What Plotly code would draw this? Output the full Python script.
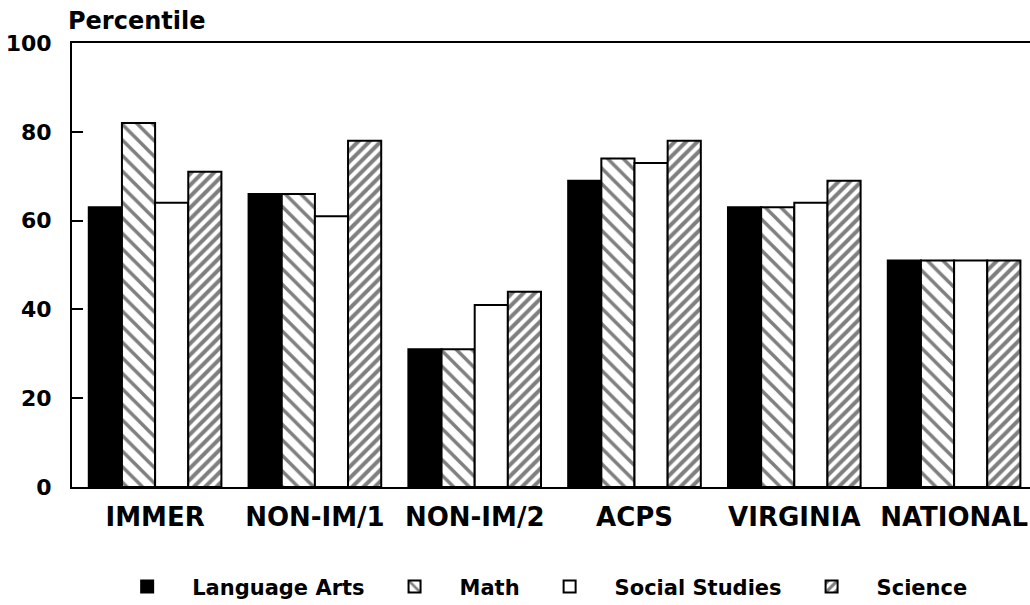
import plotly.graph_objects as go

# Percentile scores by program group and subject
groups = ["IMMER", "NON-IM/1", "NON-IM/2", "ACPS", "VIRGINIA", "NATIONAL"]
language_arts = [63, 66, 31, 69, 63, 51]
math = [82, 66, 31, 74, 63, 51]
social_studies = [64, 61, 41, 73, 64, 51]
science = [71, 78, 44, 78, 69, 51]
y_ticks = [0, 20, 40, 60, 80, 100]

FONT = "DejaVu Sans"

series = [
    ("Language Arts", language_arts, dict(color="black")),
    ("Math", math, dict(color="white", pattern=dict(shape="\\", fgcolor="black", bgcolor="white",
                                                     size=11, solidity=0.32))),
    ("Social Studies", social_studies, dict(color="white")),
    ("Science", science, dict(color="white", pattern=dict(shape="/", fgcolor="black", bgcolor="white",
                                                           size=8, solidity=0.5))),
]

fig = go.Figure()
for name, vals, marker in series:
    marker = dict(marker, line=dict(color="black", width=2))
    fig.add_trace(go.Bar(name=name, x=groups, y=vals, marker=marker))

fig.update_layout(
    width=1030, height=605,
    margin=dict(l=72, r=0, t=43, b=118, autoexpand=False),
    paper_bgcolor="white", plot_bgcolor="white",
    barmode="group", bargap=0.17, bargroupgap=0,
    font=dict(family=FONT, color="black", weight="bold"),
    showlegend=True,
    legend=dict(orientation="h", x=0.522, xref="container", xanchor="center",
                y=0.03, yref="container", yanchor="middle",
                font=dict(family=FONT, size=21, color="black", weight="bold"),
                itemwidth=80, traceorder="normal"),
    annotations=[dict(text="Percentile", xref="paper", yref="paper", x=-0.006, y=1,
                      xanchor="left", yanchor="bottom", yshift=6, showarrow=False,
                      font=dict(family=FONT, size=24, color="black", weight="bold"))],
)

fig.update_xaxes(
    range=[-0.52, 5.475], showline=True, linecolor="black", linewidth=2, mirror=True,
    ticks="", showgrid=False, zeroline=False, automargin=False,
    tickfont=dict(family=FONT, size=26, color="black", weight="bold"),
    ticklabelstandoff=6,
)
fig.update_yaxes(
    range=[0, 100], tickvals=y_ticks, showline=True, linecolor="black", linewidth=2,
    ticks="inside", ticklen=11, tickwidth=2, tickcolor="black",
    showgrid=False, zeroline=False, automargin=False,
    tickfont=dict(family=FONT, size=22, color="black", weight="bold"),
    ticklabelstandoff=14,
)

fig.write_html("out.html")
